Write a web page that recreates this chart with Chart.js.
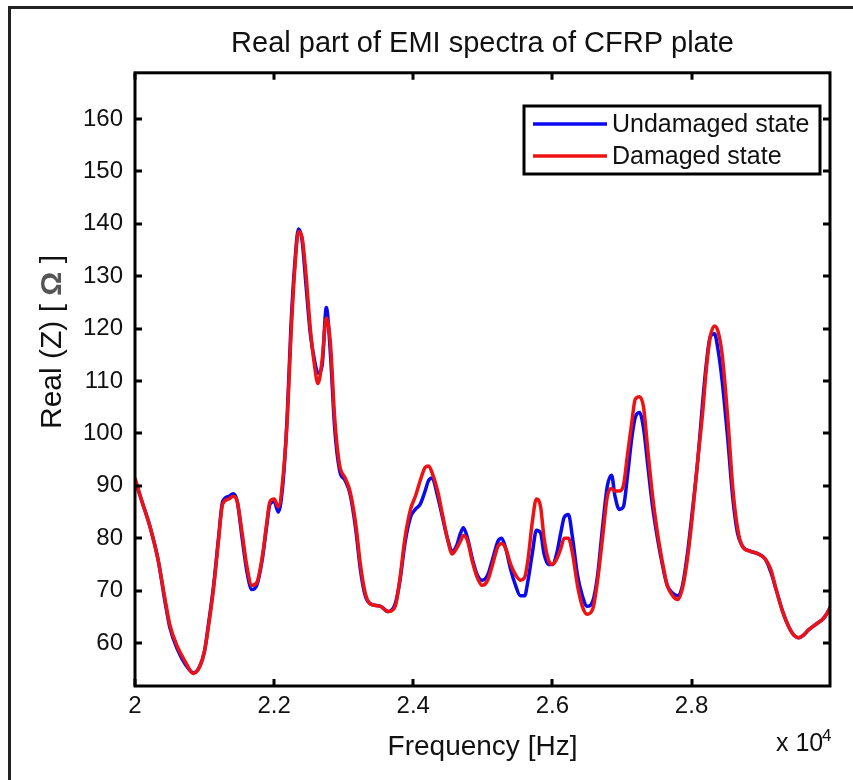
<!DOCTYPE html>
<html>
<head>
<meta charset="utf-8">
<script src="https://cdn.jsdelivr.net/npm/chart.js@4.4.1/dist/chart.umd.min.js"></script>
<style>
  html, body { margin: 0; padding: 0; background: #fff; }
  #wrap { width: 853px; height: 780px; }
</style>
</head>
<body>
<div id="wrap"><canvas id="emi" width="853" height="780"></canvas></div>
<script>
// --- DATA (frequency in units of 10^4 Hz, Real(Z) in ohm) ---
const freq = [2.000,2.010,2.022,2.033,2.043,2.050,2.062,2.072,2.084,2.093,2.100,2.106,2.113,2.120,2.126,2.135,2.141,2.147,2.154,2.161,
  2.168,2.175,2.183,2.189,2.194,2.200,2.206,2.213,2.219,2.224,2.230,2.235,2.240,2.246,2.252,2.258,2.263,2.269,2.275,2.281,
  2.287,2.294,2.302,2.309,2.317,2.324,2.331,2.338,2.353,2.364,2.374,2.381,2.388,2.396,2.403,2.410,2.417,2.422,2.427,2.435,
  2.442,2.449,2.456,2.462,2.468,2.472,2.478,2.485,2.492,2.499,2.507,2.514,2.522,2.527,2.533,2.540,2.547,2.554,2.560,2.565,
  2.571,2.577,2.583,2.588,2.594,2.600,2.606,2.612,2.617,2.623,2.629,2.636,2.643,2.650,2.658,2.665,2.672,2.679,2.685,2.690,
  2.696,2.702,2.708,2.714,2.719,2.725,2.731,2.737,2.744,2.751,2.758,2.765,2.773,2.780,2.787,2.794,2.801,2.809,2.816,2.821,
  2.827,2.833,2.838,2.844,2.852,2.859,2.866,2.873,2.885,2.896,2.906,2.914,2.922,2.931,2.940,2.947,2.954,2.961,2.968,2.978,
  2.988,2.994,3.000];

const undamaged = [91,87,82,76,68,63,58.5,56,54.3,55.5,58.5,64,71,80,87,88,88.5,87,80,73.5,
  70.2,71,76,82,86.5,87,85,91,104,120,133,139,137,128,119,114,111.5,113,124,115,
  101,93,91,88.5,82,74,69,67.5,67,66,67.5,72,79,84,85.5,86.5,89,91,91.5,88,
  84,80,77.5,78.5,81,82,80,76,73,72,73,76,79.5,80,78,74,71,69,69,72,
  77,81.5,81,77,75,75,77,81,84,84.5,80,73,69,67,68,73,82,90,92,88,
  85.5,86,92,99,103,104,101,94,86,80,75,71,69.5,69,71,77,85,95,106,113,
  118.5,119,116,110,99,88,81,78.5,77.5,77,76,73.5,70,66,63,61.5,61,61.5,62.5,63.5,
  64.5,65.5,67];

const damaged = [91.5,87,82,76,68.5,63.5,59,56.5,54.2,55.5,58.5,63.5,70.5,79.5,86.5,87.5,88,87,81,74.5,
  71,71.5,76.5,82.5,87,87.5,86,92,103,118,132,138.5,137.5,130,120,113,109.5,114,122,117,
  103,94,91.5,89,83,75,69.5,67.5,67,66,67,72.5,80,85.5,88,91,93.5,93.8,92.5,89,
  84.5,80,77,78,79.5,80.5,79.5,75.5,72.5,71,72,75,78.5,79,78,75,73,72,72.5,76,
  83,87.5,86,80,76,75,76,78,80,80,77,71,67,65.5,66.5,72,80,88,89.5,89,
  89,90,96,102,106.5,107,105,97,88,81,75.5,71,69,68.3,70.5,76,84,95,104,112,
  118.5,120.5,119.5,115,103,90,82,78.5,77.5,77,76,74,70,66,63,61.5,61,61.5,62.5,63.5,
  64.5,65.5,67];

const seriesLabels = ['Undamaged state', 'Damaged state'];
const seriesColors = ['#0a0af0', '#ee1212'];
const yTicks = [60, 70, 80, 90, 100, 110, 120, 130, 140, 150, 160];
const xTicks = [2, 2.2, 2.4, 2.6, 2.8];

const FONT = 'Arial, "Liberation Sans", Helvetica, sans-serif';

// frame, axes box, inward ticks, legend, y label, exponent label
const decorPlugin = {
    id: 'decor',
    afterLayout(chart) {
        // MATLAB centres the title over the axes, not the figure
        const t = chart.titleBlock;
        if (t) {
            t.left = chart.chartArea.left;
            t.right = chart.chartArea.right;
            t.width = t.right - t.left;
        }
    },
    beforeDraw(chart) {
        const ctx = chart.ctx;
        ctx.save();
        ctx.fillStyle = '#fff';
        ctx.fillRect(0, 0, chart.width, chart.height);
        // outer frame (top + left only visible)
        ctx.fillStyle = '#222';
        ctx.fillRect(8, 6, chart.width - 8, 3);
        ctx.fillRect(8, 6, 3, chart.height - 6);
        ctx.restore();
    },
    afterDatasetsDraw(chart) {
        const ctx = chart.ctx;
        const a = chart.chartArea;
        const xs = chart.scales.x, ys = chart.scales.y;
        ctx.save();
        ctx.strokeStyle = '#000';
        ctx.lineWidth = 3;
        ctx.lineCap = 'square';
        ctx.strokeRect(a.left, a.top, a.right - a.left, a.bottom - a.top);
        const tl = 7;
        ctx.beginPath();
        xTicks.forEach(v => {
            const px = Math.round(xs.getPixelForValue(v));
            ctx.moveTo(px, a.bottom); ctx.lineTo(px, a.bottom - tl);
            ctx.moveTo(px, a.top); ctx.lineTo(px, a.top + tl);
        });
        yTicks.forEach(v => {
            const py = Math.round(ys.getPixelForValue(v));
            ctx.moveTo(a.left, py); ctx.lineTo(a.left + tl, py);
            ctx.moveTo(a.right, py); ctx.lineTo(a.right - tl, py);
        });
        ctx.lineCap = 'butt';
        ctx.stroke();

        // legend box
        const lx = 524, ly = 106, lw = 296, lh = 68;
        ctx.fillStyle = '#fff';
        ctx.fillRect(lx, ly, lw, lh);
        ctx.lineWidth = 3;
        ctx.strokeRect(lx, ly, lw, lh);
        const rows = [124, 156];
        seriesLabels.forEach((label, i) => {
            ctx.strokeStyle = seriesColors[i];
            ctx.lineWidth = 3.5;
            ctx.beginPath();
            ctx.moveTo(533, rows[i]); ctx.lineTo(607, rows[i]);
            ctx.stroke();
            ctx.fillStyle = '#111';
            ctx.font = '25px ' + FONT;
            ctx.textAlign = 'left';
            ctx.textBaseline = 'middle';
            ctx.fillText(label, 612, rows[i] + 1);
        });

        // y axis label with grey bold omega
        const parts = [
            { t: 'Real (Z) [ ', f: '30px ' + FONT, c: '#111' },
            { t: 'Ω', f: 'bold 30px ' + FONT, c: '#555' },
            { t: ' ]', f: '30px ' + FONT, c: '#111' }
        ];
        let total = 0;
        parts.forEach(p => { ctx.font = p.f; p.w = ctx.measureText(p.t).width; total += p.w; });
        ctx.translate(61, 342);
        ctx.rotate(-Math.PI / 2);
        ctx.textBaseline = 'alphabetic';
        ctx.textAlign = 'left';
        let cx = -total / 2;
        parts.forEach(p => { ctx.font = p.f; ctx.fillStyle = p.c; ctx.fillText(p.t, cx, 0); cx += p.w; });
        ctx.setTransform(1, 0, 0, 1, 0, 0);

        // x 10^4 exponent
        ctx.fillStyle = '#111';
        ctx.textBaseline = 'alphabetic';
        ctx.font = '25px ' + FONT;
        ctx.fillText('x 10', 776, 751);
        ctx.font = '17px ' + FONT;
        ctx.fillText('4', 822, 741);
        ctx.restore();
    }
};

const ctx = document.getElementById('emi');
new Chart(ctx, {
    type: 'line',
    data: {
        datasets: [
            { label: seriesLabels[0], data: freq.map((f, i) => ({ x: f, y: undamaged[i] })), borderColor: seriesColors[0], order: 1 },
            { label: seriesLabels[1], data: freq.map((f, i) => ({ x: f, y: damaged[i] })), borderColor: seriesColors[1], order: 0 }
        ]
    },
    options: {
        responsive: false,
        animation: false,
        layout: { padding: { left: 0, right: 23, top: 0, bottom: 0 } },
        elements: {
            point: { radius: 0 },
            line: { borderWidth: 3.5, cubicInterpolationMode: 'monotone', fill: false }
        },
        plugins: {
            legend: { display: false },
            tooltip: { enabled: false },
            title: {
                display: true,
                text: 'Real part of EMI spectra of CFRP plate',
                color: '#111',
                font: { family: FONT, size: 29, weight: 'normal' },
                padding: { top: 27, bottom: 11 }
            }
        },
        scales: {
            x: {
                type: 'linear',
                min: 2, max: 2.999,
                afterFit: s => { s.height = 94; },
                afterBuildTicks: s => { s.ticks = xTicks.map(v => ({ value: v })); },
                grid: { display: false, drawTicks: false },
                border: { display: false },
                ticks: {
                    color: '#111', padding: 6,
                    font: { family: FONT, size: 24 },
                    callback: v => String(Number(v.toFixed(1)))
                },
                title: {
                    display: true, text: 'Frequency [Hz]', color: '#111',
                    font: { family: FONT, size: 28 },
                    padding: { top: 0, bottom: 16 }
                }
            },
            y: {
                type: 'linear',
                min: 51.8, max: 168.8,
                afterFit: s => { s.width = 135; },
                afterBuildTicks: s => { s.ticks = yTicks.map(v => ({ value: v })); },
                grid: { display: false, drawTicks: false },
                border: { display: false },
                ticks: {
                    color: '#111', padding: 12,
                    font: { family: FONT, size: 24 }
                },
                title: { display: false }
            }
        }
    },
    plugins: [decorPlugin]
});
</script>
</body>
</html>
